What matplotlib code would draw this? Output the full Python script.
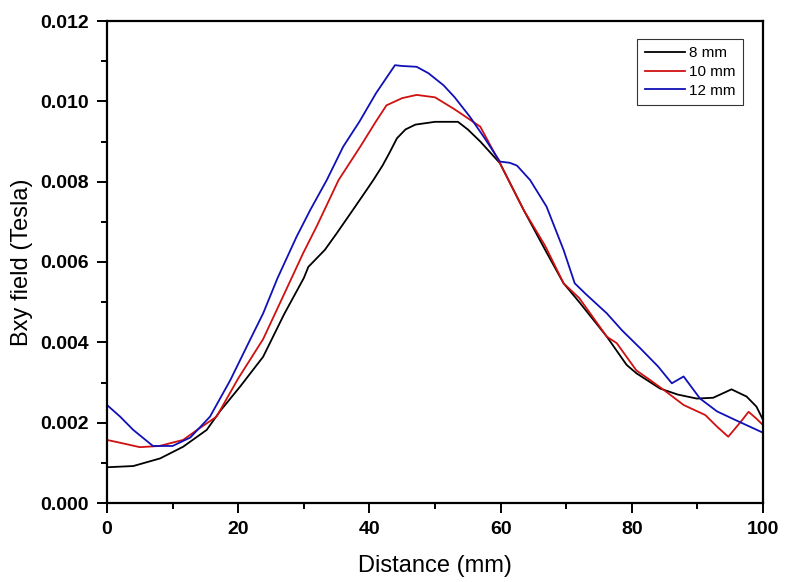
import numpy as np
import matplotlib.pyplot as plt
from matplotlib.ticker import MultipleLocator, FormatStrFormatter

plt.rcParams['font.family'] = ['Liberation Sans', 'DejaVu Sans']

# 8 mm
x_8 = [0, 4, 8.1, 11.6, 15.2, 17.2, 20.3, 23.8, 27, 30, 30.7, 33.2, 35, 37.5, 39.6,
       40.6, 42, 43, 44.2, 45.5, 47, 50, 53.5, 55, 56.9, 59.9, 63.5, 66.8, 69.6, 72,
       76.2, 79.2, 80.7, 84.3, 87, 89.9, 92.4, 95.2, 97.5, 99, 100]
b_8 = [0.00089, 0.00092, 0.00111, 0.0014, 0.00182, 0.00228, 0.0029, 0.00364, 0.0047,
       0.0056, 0.00588, 0.0063, 0.00671, 0.0073, 0.0078, 0.00804, 0.0084, 0.0087,
       0.00908, 0.0093, 0.00942, 0.00949, 0.00949, 0.0093, 0.0090, 0.00846, 0.0073,
       0.0063, 0.00547, 0.0050, 0.00414, 0.00344, 0.00323, 0.00285, 0.0027, 0.0026,
       0.00262, 0.00283, 0.00265, 0.0024, 0.00207]

# 10 mm
x_10 = [0, 2, 5, 8, 11.6, 14, 16.7, 20, 23.8, 27, 29.9, 32, 35.3, 38.6, 41,
        42.6, 45, 47.2, 50, 53, 56.9, 59.9, 63.5, 66.8, 69.6, 72, 76.2, 77.7, 80.7,
        82.8, 85, 87.9, 91.2, 93, 94.7, 96.5, 97.8, 99, 100]
b_10 = [0.00157, 0.0015, 0.00139, 0.00142, 0.00157, 0.00185, 0.00215, 0.0031,
        0.00408, 0.0052, 0.00622, 0.0069, 0.00804, 0.00887, 0.0095, 0.0099, 0.01008,
        0.01016, 0.0101, 0.0098, 0.00937, 0.00846, 0.0073, 0.0064, 0.00547, 0.0051,
        0.00414, 0.00398, 0.0033, 0.00306, 0.0028, 0.00244, 0.00219, 0.0019, 0.00165,
        0.002, 0.00227, 0.0021, 0.00194]

# 12 mm
x_12 = [0, 2, 4, 7, 10, 12.7, 15.7, 18.8, 21.8, 23.8, 26, 28.9, 31, 33.5, 36, 38.5,
        41, 43.9, 45, 47.2, 49, 51.3, 53, 55.3, 57.5, 59.9, 61.4, 62.5, 64.5, 67,
        69.6, 71.3, 73, 76.2, 78.5, 81.3, 84, 86.1, 87.9, 90.4, 93, 96, 98, 100]
b_12 = [0.00244, 0.00215, 0.00182, 0.00142, 0.00142, 0.00163, 0.00215, 0.00306,
        0.00406, 0.00472, 0.0056, 0.00663, 0.0073, 0.00804, 0.00887, 0.0095, 0.0102,
        0.0109, 0.01088, 0.01086, 0.0107, 0.0104, 0.0101, 0.00962, 0.0091, 0.0085,
        0.00847, 0.0084, 0.00804, 0.00738, 0.0063, 0.00547, 0.0052, 0.00472, 0.0043,
        0.00385, 0.0034, 0.00298, 0.00315, 0.0026, 0.00228, 0.00205, 0.0019, 0.00175]

fig = plt.figure(figsize=(7.94, 5.82), dpi=100)
ax = fig.add_axes([107/794, 79/582, 656/794, 482/582])

ax.plot(x_8, b_8, color='black', lw=1.3, label='8 mm')
ax.plot(x_10, b_10, color='#d01010', lw=1.3, label='10 mm')
ax.plot(x_12, b_12, color='#1010b8', lw=1.3, label='12 mm')

ax.set_xlim(0, 100)
ax.set_ylim(0, 0.012)
ax.xaxis.set_major_locator(MultipleLocator(20))
ax.xaxis.set_minor_locator(MultipleLocator(10))
ax.yaxis.set_major_locator(MultipleLocator(0.002))
ax.yaxis.set_minor_locator(MultipleLocator(0.001))
ax.yaxis.set_major_formatter(FormatStrFormatter('%.3f'))

for s in ax.spines.values():
    s.set_linewidth(1.6)
ax.tick_params(which='both', direction='out', width=1.4, top=False, right=False)
ax.tick_params(which='major', length=7, labelsize=14, pad=6)
ax.tick_params(which='minor', length=4)
for lab in ax.get_xticklabels() + ax.get_yticklabels():
    lab.set_fontweight('bold')

ax.set_xlabel('Distance (mm)', fontsize=17, labelpad=12)
ax.set_ylabel('Bxy field (Tesla)', fontsize=17, labelpad=5)

leg = ax.legend(loc='upper right', bbox_to_anchor=(0.969, 0.963), fontsize=11,
                frameon=True, fancybox=False, handlelength=2.6, handletextpad=0.25,
                labelspacing=0.3, borderpad=0.5, borderaxespad=0)
leg.get_frame().set_edgecolor('black')
leg.get_frame().set_linewidth(0.8)

fig.savefig('out.png', dpi=100)
